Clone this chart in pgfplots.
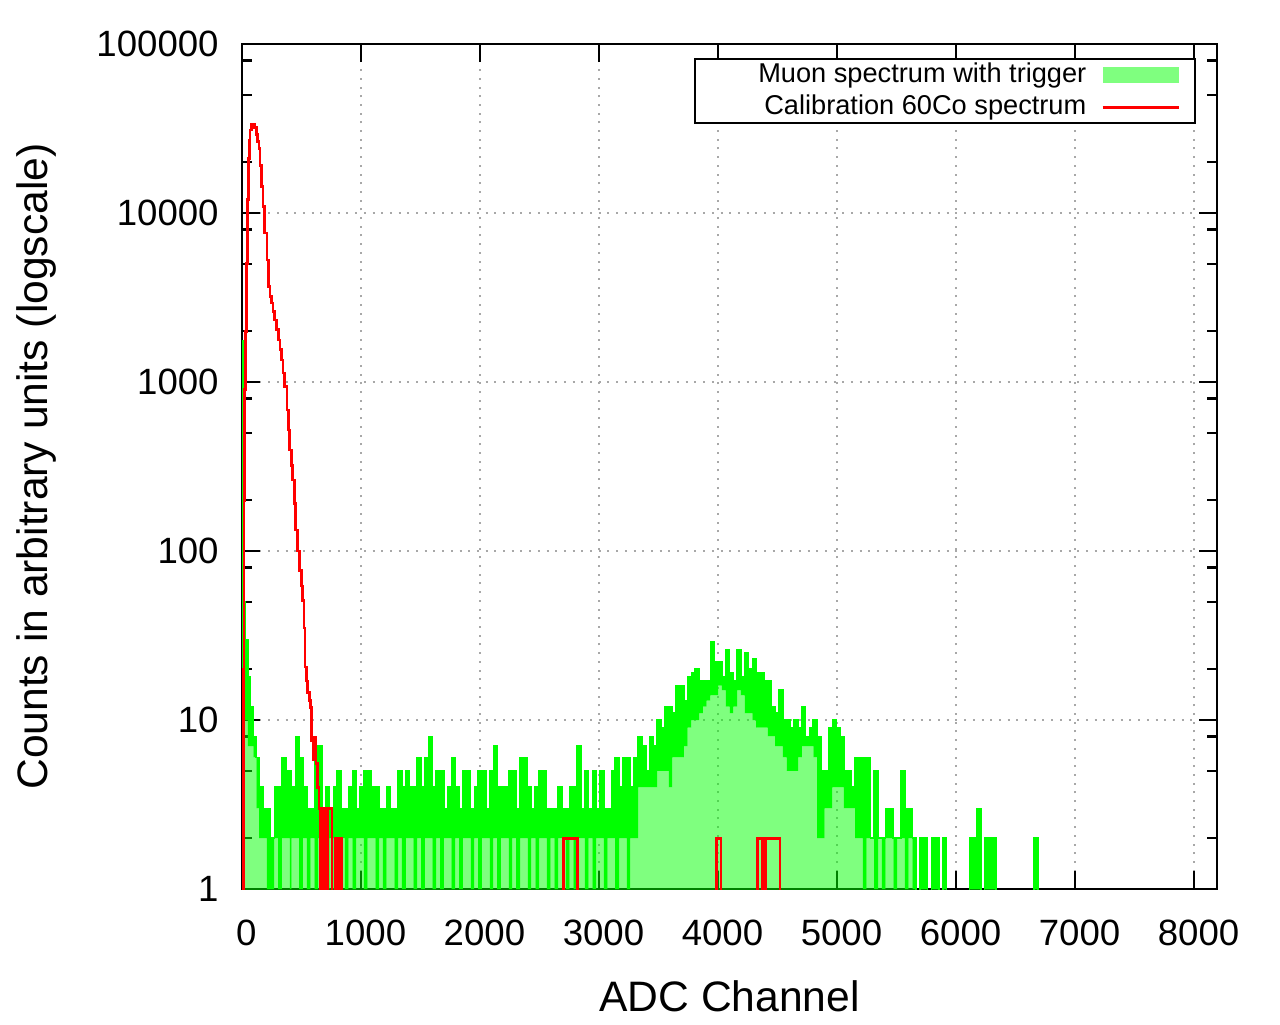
\documentclass[border=0pt]{standalone}
\usepackage{fontspec}
\setmainfont{Liberation Sans}
\usepackage{pgfplots}
\usepackage{pgfplotstable}
\pgfplotsset{compat=1.18}
\usepgfplotslibrary{fillbetween}
\definecolor{bgreen}{HTML}{00FF00}
\definecolor{lred}{HTML}{FF0000}
\definecolor{gridgray}{HTML}{A8A8A8}

\pgfplotstableread{
x hi lo
0 0.5 0.5
0 1750 30
8 50 20
24 30 10
48 18 7
72 12 7
96 8 6
120 6 3
144 4 2
176 3 2
208 3 1
240 2 1
272 4 2
304 4 1
336 6 2
368 5 2
400 5 1
416 4 2
448 8 2
480 6 1
512 4 2
544 3 1
576 3 2
608 6 1
640 7 2
672 3 2
704 4 1
736 3 2
768 4 1
800 5 2
832 3 2
864 3 1
896 4 2
928 5 1
960 3 2
992 4 2
1024 5 1
1056 5 2
1088 4 2
1120 4 1
1152 3 2
1184 3 1
1216 4 2
1248 3 2
1280 3 1
1312 5 2
1344 4 1
1376 5 2
1408 4 2
1440 4 1
1472 6 2
1504 4 1
1536 6 2
1568 8 2
1600 4 1
1632 5 2
1664 5 1
1696 3 2
1728 4 2
1760 6 1
1792 4 2
1824 3 1
1856 5 2
1888 5 2
1920 3 1
1952 4 2
1984 5 1
2016 5 2
2048 3 2
2080 5 1
2112 7 2
2144 4 1
2176 4 2
2208 4 2
2240 5 1
2272 5 2
2304 3 1
2336 6 2
2368 6 2
2400 4 1
2432 3 2
2464 4 1
2496 5 2
2528 5 2
2560 3 1
2592 3 2
2624 3 1
2656 4 2
2688 3 2
2720 3 1
2752 4 2
2784 4 1
2816 7 2
2848 3 2
2880 5 1
2912 3 2
2944 5 1
2976 3 2
3008 5 2
3040 3 1
3072 3 2
3104 5 2
3136 6 1
3168 4 2
3200 6 2
3232 6 1
3264 4 2
3296 6 2
3328 8 4
3360 7 4
3392 5 4
3424 8 4
3456 7 4
3488 10 5
3520 9 5
3552 12 5
3584 12 4
3616 11 6
3648 16 6
3680 16 6
3712 13 7
3744 18 9
3776 19 10
3808 20 10
3840 17 11
3872 17 12
3904 17 13
3936 29 14
3968 22 14
4000 22 16
4032 18 15
4064 26 12
4096 19 11
4128 17 12
4160 26 15
4192 18 14
4224 25 11
4256 20 11
4288 23 10
4320 19 9
4352 19 9
4384 17 9
4416 17 8
4448 12 8
4480 11 7
4512 15 7
4544 10 6
4576 10 5
4608 9 5
4640 10 5
4672 9 6
4704 12 7
4736 8 7
4768 9 7
4800 10 6
4832 8 2
4864 5 2
4896 5 3
4928 9 3
4960 10 4
4992 9 4
5024 8 4
5056 5 3
5088 5 3
5120 4 3
5152 6 2
5184 6 2
5216 6 1
5248 6 2
5280 2 2
5312 5 1
5344 2 2
5376 2 1
5408 3 2
5440 3 2
5472 2 1
5504 2 2
5536 5 2
5568 3 1
5600 3 2
5632 2 1
5664 0.5 0.5
5696 2 1
5728 2 1
5760 0.5 0.5
5792 2 1
5824 2 1
5856 0.5 0.5
5888 2 1
5920 0.5 0.5
6112 2 1
6144 2 1
6176 3 1
6208 0.5 0.5
6240 2 1
6272 2 1
6304 2 1
6336 0.5 0.5
6656 2 1
6688 0.5 0.5
8192 0.5 0.5
}\greendata

\begin{document}
\begin{tikzpicture}
\begin{axis}[
  at={(121pt,67.5pt)}, anchor=south west,
  scale only axis, width=487.5pt, height=422.5pt,
  ymode=log, xmin=0, xmax=8192, ymin=1, ymax=100000,
  xtick={0,1000,2000,3000,4000,5000,6000,7000,8000},
  xticklabels={0,1000,2000,3000,4000,5000,6000,7000,8000},
  ytick={1,10,100,1000,10000,100000},
  yticklabels={1,10,100,1000,10000,100000},
  minor ytick={2,5,8,20,50,80,200,500,800,2000,5000,8000,20000,50000,80000},
  tick align=inside, major tick length=9pt, minor tick length=5pt,
  tick style={black, line width=1.3pt},
  axis line style={line width=1.3pt},
  xmajorgrids, ymajorgrids,
  major grid style={gridgray, line width=1pt, dash pattern=on 1pt off 3.35pt},
  tick label style={font=\fontsize{18.3}{22}\selectfont},
  /pgf/number format/assume math mode=true,
  xticklabel style={anchor=north, inner sep=0pt, yshift=-15.5pt, xshift=2.2pt},
  yticklabel style={anchor=east, inner sep=0pt, xshift=-11.5pt},
  xlabel={ADC Channel},
  ylabel={Counts in arbitrary units (logscale)},
  every axis x label/.style={at={(rel axis cs:0.5,0)}, anchor=base, yshift=-61pt, inner sep=0pt, font=\fontsize{21.3}{25}\selectfont},
  every axis y label/.style={at={(rel axis cs:0,0.5)}, xshift=-92.5pt, rotate=90, anchor=south, inner sep=0pt, font=\fontsize{21.3}{25}\selectfont},
  legend plot pos=right, legend cell align=right,
  legend style={at={(0.9785,0.983)}, anchor=north east, draw=black, line width=0.9pt,
    inner sep=0pt, column sep=7.5pt, font=\fontsize{13.6}{16}\selectfont,
    nodes={inner xsep=0pt, inner ysep=1.5pt, text height=10pt, text depth=3pt}},
]
\addplot[const plot, draw=bgreen, line width=0.8pt, name path=hi, forget plot]
  table[x=x, y=hi] {\greendata};
\addplot[const plot, draw=none, name path=lo, forget plot]
  table[x=x, y=lo] {\greendata};
\addplot[bgreen, forget plot] fill between[of=hi and lo];
\addplot[const plot, draw=none, fill=bgreen, fill opacity=0.5,
  legend image code/.code={\fill[bgreen, fill opacity=0.5] (0pt,-4pt) rectangle (38pt,4pt); \path (45.5pt,0pt);}]
  table[x=x, y=lo] {\greendata};
\addlegendentry{\hspace*{31.5pt}Muon spectrum with trigger}
\addplot[const plot, draw=lred, line width=1.4pt,
  legend image code/.code={\draw[lred, line width=1.4pt] (0pt,0pt) -- (38pt,0pt); \path (45.5pt,0pt);}]
  coordinates {(0,0.5)(10,20)(16,200)(22,900)(28,2000)(36,5000)(44,12000)(52,21000)(60,27000)(68,31000)(80,33500)(96,33500)(108,32000)(120,29000)(132,26500)(143,24000)(152,19000)(163,14300)(176,10900)(191,7620)(210,5270)(224,3660)(236,3200)(247,2930)(260,2600)(275,2330)(290,2050)(308,1770)(320,1550)(331,1350)(345,1130)(359,938)(378,683)(390,520)(401,396)(413,320)(426,263)(438,190)(451,133)(468,100)(485,77)(498,62)(508,51)(521,35)(529,20.6)(540,17)(550,14.5)(565,13)(577,11.9)(586,7.6)(597,5.8)(605,7.9)(613,7.9)(622,5.5)(634,4)(647,3)(660,0.5)(668,3)(690,0.5)(700,3)(712,0.5)(720,3)(744,3)(756,0.5)(785,2)(797,0.5)(806,2)(815,0.5)(826,2)(836,0.5)(2700,2)(2820,0.5)(3985,2)(4025,0.5)(4330,2)(4370,0.5)(4400,2)(4520,0.5)(8192,0.5)};
\addlegendentry{Calibration 60Co spectrum}
\end{axis}
\pgfresetboundingbox
\path[use as bounding box] (0,0) rectangle (640pt,512pt);
\end{tikzpicture}
\end{document}
